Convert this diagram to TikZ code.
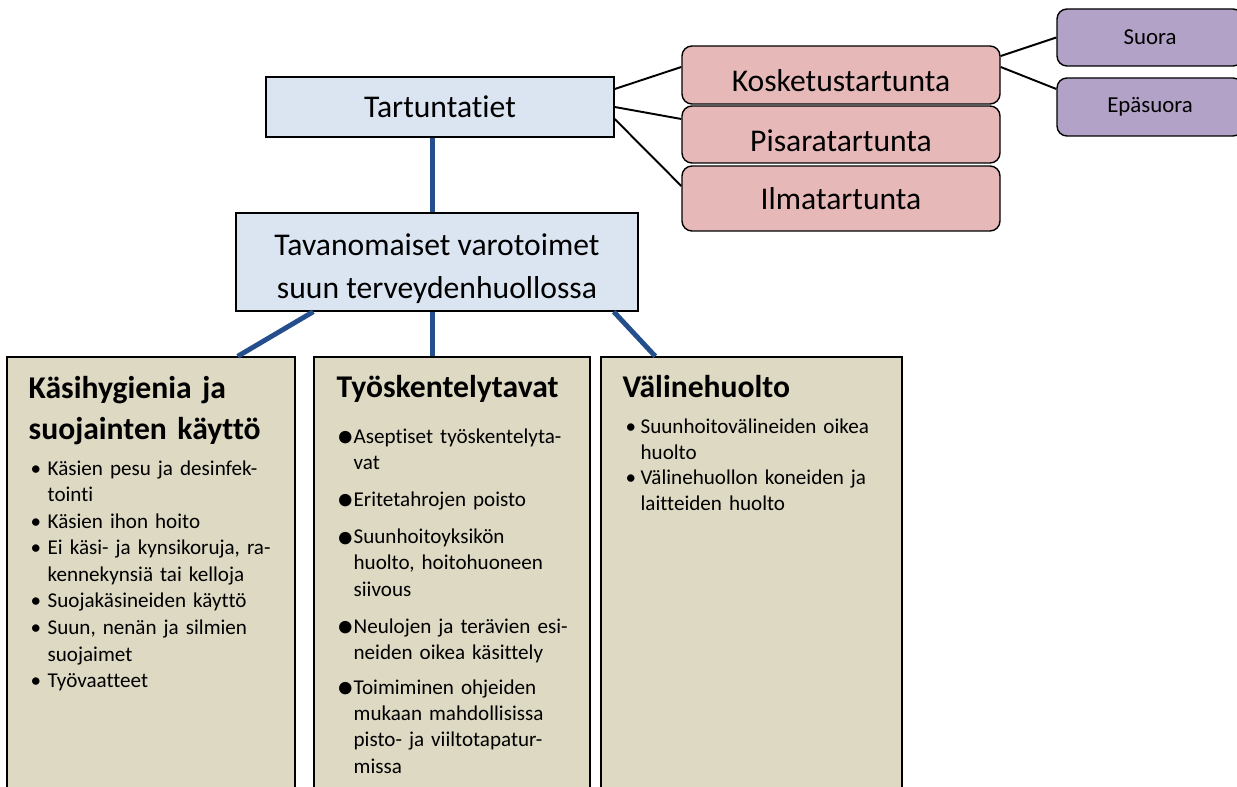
\documentclass[tikz,border=0pt]{standalone}
\usepackage{fontspec}
\setmainfont{Carlito}[Ligatures={NoCommon}, RawFeature={-liga;-clig;-calt;-dlig}]
\usepackage{tikz}
\usetikzlibrary{shapes.geometric,arrows}
\definecolor{VaaleaSini}{HTML}{DBE5F1}
\definecolor{TummaSini}{HTML}{254F8C}
\definecolor{Punertava}{HTML}{E6B9B8}
\definecolor{Violetti}{HTML}{B3A2C7}
\definecolor{Khaki}{HTML}{DDD9C3}
\tikzstyle{paa} = [rectangle,
minimum width=6.96cm,
minimum height=1.2cm,
align=center,
draw=black,
line width=0.8pt,
fill=VaaleaSini,
font=\fontsize{18}{24.4}\selectfont]
\tikzstyle{reitti} = [rectangle, rounded corners=0.2cm,
minimum width=6.36cm,
minimum height=1.16cm,
text centered,
draw=black,
line width=0.8pt,
fill=Punertava,
font=\fontsize{18}{22}\selectfont]
\tikzstyle{alalaji} = [rectangle, rounded corners=0.2cm,
minimum width=3.72cm,
minimum height=1.14cm,
text centered,
draw=black,
line width=0.8pt,
fill=Violetti,
font=\fontsize{13}{15}\selectfont]
\tikzstyle{osa} = [rectangle,
minimum height=8.86cm,
draw=black,
line width=0.8pt,
fill=Khaki]
\tikzstyle{osaotsikko} = [anchor=base west,
inner sep=0pt,
text width=5.6cm,
align=left,
font=\bfseries\fontsize{18}{23.2}\selectfont]
\tikzstyle{luettelo} = [anchor=base west,
inner sep=0pt,
text width=5.6cm,
align=left,
font=\fontsize{12}{15.1}\selectfont]
\tikzstyle{yhteys} = [line width=2.8pt, draw=TummaSini]
\tikzstyle{viiva} = [line width=1.1pt]
\newcommand{\pallo}{\makebox[0.38cm][l]{\hspace{0.04cm}\textbullet}}
\newcommand{\pieni}{\makebox[0.36cm][l]{\hspace{0.06cm}\textbullet}}
\newcommand{\iso}{\makebox[0.34cm][l]{\raisebox{-2.5pt}{\fontsize{20}{20}\selectfont\textbullet}}}

\begin{document}
\begin{tikzpicture}[node distance=3.1cm]
                \useasboundingbox (0,0) rectangle (24.74,-15.74);
                \coordinate (akseli) at (8.65,0);
                % ylaosa
                \node[paa] at (8.8,-2.14) (tart) {Tartuntatiet};
                \node[paa, below of=tart, xshift=-0.06cm, minimum width=8.04cm, minimum height=1.96cm] (tavan) {\rule{0pt}{20pt}Tavanomaiset varotoimet\\suun terveydenhuollossa};
                \node[reitti] at (16.82,-1.5) (koske) {\rule{0pt}{19pt}Kosketustartunta};
                \node[reitti, below of=koske, node distance=1.19cm, minimum height=1.14cm] (pisara) {\rule{0pt}{19pt}Pisaratartunta};
                \node[reitti, below of=pisara, node distance=1.28cm, minimum height=1.3cm] (ilma) {Ilmatartunta};
                \node[alalaji] at (23.0,-0.75) (suora) {Suora};
                \node[alalaji, below of=suora, node distance=1.39cm, minimum height=1.16cm] (epa) {Epäsuora};

                % alaosan laatikot
                \node[osa, minimum width=5.76cm] at (3.02,-11.57) (kasi) {};
                \node[osa, minimum width=5.52cm] at (9.04,-11.57) (tyo) {};
                \node[osa, minimum width=6.02cm] at (15.03,-11.57) (vali) {};

                \node[osaotsikko] at ([xshift=0.44cm, yshift=-0.84cm]kasi.north west) (kasiots) {Käsihygienia ja\\suojainten käyttö};
                \node[luettelo] at ([xshift=0.44cm, yshift=-2.38cm]kasi.north west) (kasilista) {%
                \pallo Käsien pesu ja desinfek-\\
                \hspace*{0.38cm}tointi\\
                \pallo Käsien ihon hoito\\
                \pallo Ei käsi- ja kynsikoruja, ra-\\
                \hspace*{0.38cm}kennekynsiä tai kelloja\\
                \pallo Suojakäsineiden käyttö\\
                \pallo Suun, nenän ja silmien\\
                \hspace*{0.38cm}suojaimet\\
                \pallo Työvaatteet};

                \node[osaotsikko] at ([xshift=0.46cm, yshift=-0.82cm]tyo.north west) (tyoots) {Työskentelytavat};
                \node[luettelo, font=\fontsize{12}{14.9}\selectfont] at ([xshift=0.46cm, yshift=-1.74cm]tyo.north west) (tyolista) {%
                \iso Aseptiset työskentelyta-\\
                \hspace*{0.34cm}vat\\[6.2pt]
                \iso Eritetahrojen poisto\\[6.2pt]
                \iso Suunhoitoyksikön\\
                \hspace*{0.34cm}huolto, hoitohuoneen\\
                \hspace*{0.34cm}siivous\\[6.2pt]
                \iso Neulojen ja terävien esi-\\
                \hspace*{0.34cm}neiden oikea käsittely\\[5.2pt]
                \iso Toimiminen ohjeiden\\
                \hspace*{0.34cm}mukaan mahdollisissa\\
                \hspace*{0.34cm}pisto- ja viiltotapatur-\\
                \hspace*{0.34cm}missa};

                \node[osaotsikko] at ([xshift=0.44cm, yshift=-0.82cm]vali.north west) (valiots) {Välinehuolto};
                \node[luettelo, font=\fontsize{12}{14.7}\selectfont] at ([xshift=0.44cm, yshift=-1.54cm]vali.north west) (valilista) {%
                \pieni Suunhoitovälineiden oikea\\
                \hspace*{0.36cm}huolto\\
                \pieni Välinehuollon koneiden ja\\
                \hspace*{0.36cm}laitteiden huolto};

                % yhteydet
                \draw[yhteys] (tart.south -| akseli) -- (tavan.north -| akseli);
                \draw[yhteys] ([xshift=1.56cm]tavan.south west) -- ([xshift=-1.16cm]kasi.north east);
                \draw[yhteys] (tavan.south -| akseli) -- (tyo.north -| akseli);
                \draw[yhteys] ([xshift=-0.5cm]tavan.south east) -- ([xshift=1.1cm]vali.north west);

                \draw[viiva] ([yshift=0.36cm]tart.east) -- ([yshift=0.16cm]koske.west);
                \draw[viiva] (tart.east) -- ([yshift=0.31cm]pisara.west);
                \draw[viiva] ([yshift=-0.24cm]tart.east) -- ([yshift=0.25cm]ilma.west);
                \draw[viiva] ([yshift=0.38cm]koske.east) -- (suora.west);
                \draw[viiva] ([yshift=0.16cm]koske.east) -- ([yshift=0.36cm]epa.west);
            \end{tikzpicture}
\end{document}
